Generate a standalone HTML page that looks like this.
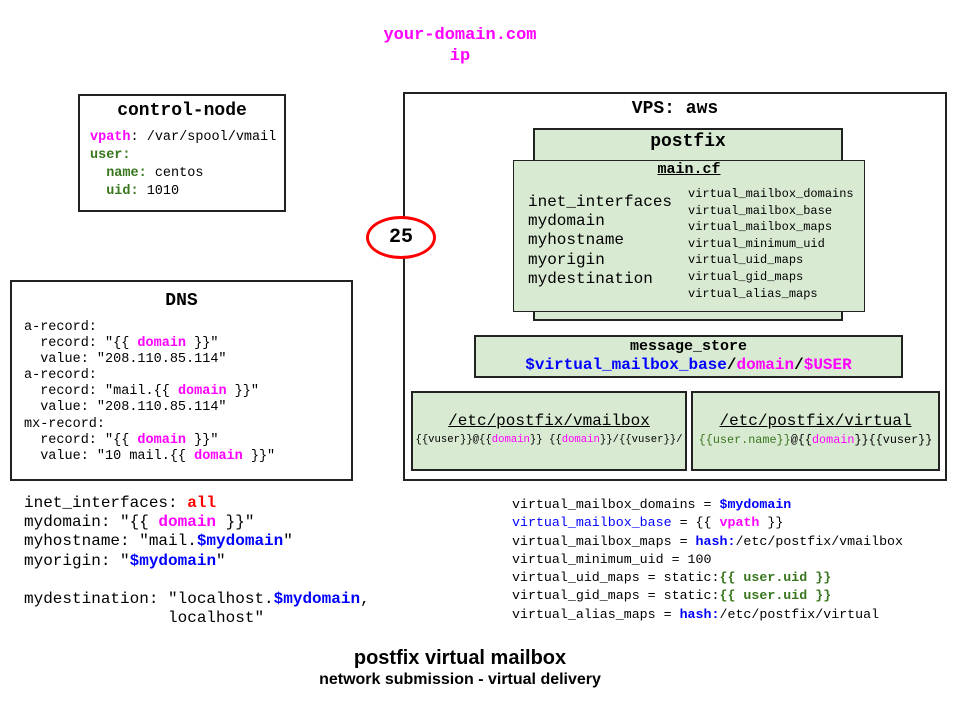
<!DOCTYPE html>
<html><head><meta charset="utf-8"><style>
body{margin:0;width:960px;height:720px;background:#fff;position:relative;overflow:hidden;font-family:"Liberation Mono",monospace;color:#000}
.a{position:absolute}
.box{position:absolute;box-sizing:border-box;border:2px solid #222}
.g{background:#d9ead3}
.m{color:#ff00ff}.b{color:#0000ff}.gr{color:#38761d}.r{color:#ff0000}
.c{text-align:center}
pre{margin:0;font-family:inherit}
</style></head><body>
<div class="a c m" style="left:360px;top:25px;width:200px;font-size:17px;line-height:21px;font-weight:bold">your-domain.com<br>ip</div>

<div class="box" style="left:78px;top:94px;width:208px;height:118px"></div>
<div class="a c" style="left:78px;top:100px;width:208px;font-size:18px;font-weight:bold;line-height:22px">control-node</div>
<pre class="a" style="left:90px;top:129px;font-size:13.5px;line-height:18px"><span class="m"><b>vpath</b></span>: /var/spool/vmail
<b class="gr">user:</b>
  <b class="gr">name:</b> centos
  <b class="gr">uid:</b> 1010</pre>

<div class="box" style="left:10px;top:280px;width:343px;height:201px"></div>
<div class="a c" style="left:10px;top:290px;width:343px;font-size:18px;font-weight:bold;line-height:22px">DNS</div>
<pre class="a" style="left:24px;top:320px;font-size:13.5px;line-height:16.1px">a-record:
  record: "{{ <b class="m">domain</b> }}"
  value: "208.110.85.114"
a-record:
  record: "mail.{{ <b class="m">domain</b> }}"
  value: "208.110.85.114"
mx-record:
  record: "{{ <b class="m">domain</b> }}"
  value: "10 mail.{{ <b class="m">domain</b> }}"</pre>

<div class="box" style="left:403px;top:92px;width:544px;height:389px"></div>
<div class="a c" style="left:403px;top:98px;width:544px;font-size:18px;font-weight:bold;line-height:22px">VPS: aws</div>

<div class="a" style="left:366px;top:216px;width:70px;height:43px;box-sizing:border-box;border:3px solid #f00;border-radius:50%;background:#fff"></div>
<div class="a c" style="left:366px;top:226px;width:70px;font-size:20px;font-weight:bold;line-height:24px">25</div>

<div class="box g" style="left:533px;top:128px;width:310px;height:193px"></div>
<div class="a c" style="left:533px;top:131px;width:310px;font-size:18px;font-weight:bold;line-height:22px">postfix</div>
<div class="a g" style="left:513px;top:160px;width:352px;height:152px;box-sizing:border-box;border:1px solid #222"></div>
<div class="a c" style="left:513px;top:160px;width:352px;font-size:15px;font-weight:bold;line-height:19px;text-decoration:underline">main.cf</div>
<pre class="a" style="left:528px;top:193px;font-size:16px;line-height:19.2px">inet_interfaces
mydomain
myhostname
myorigin
mydestination</pre>
<pre class="a" style="left:688px;top:186px;font-size:12px;line-height:16.6px">virtual_mailbox_domains
virtual_mailbox_base
virtual_mailbox_maps
virtual_minimum_uid
virtual_uid_maps
virtual_gid_maps
virtual_alias_maps</pre>

<div class="box g" style="left:474px;top:335px;width:429px;height:43px"></div>
<div class="a c" style="left:474px;top:337px;width:429px;font-size:15px;font-weight:bold;line-height:19px">message_store</div>
<div class="a c" style="left:474px;top:355px;width:429px;font-size:16px;font-weight:bold;line-height:20px"><span class="b">$virtual_mailbox_base</span>/<span class="m">domain</span>/<span class="m">$USER</span></div>

<div class="box g" style="left:411px;top:391px;width:276px;height:80px"></div>
<div class="a c" style="left:411px;top:411px;width:276px;font-size:16px;line-height:20px;text-decoration:underline">/etc/postfix/vmailbox</div>
<div class="a c" style="left:411px;top:433px;width:276px;font-size:10.6px;line-height:14px;white-space:pre">{{vuser}}@{{<span class="m">domain</span>}} {{<span class="m">domain</span>}}/{{vuser}}/</div>

<div class="box g" style="left:691px;top:391px;width:249px;height:80px"></div>
<div class="a c" style="left:691px;top:411px;width:249px;font-size:16px;line-height:20px;text-decoration:underline">/etc/postfix/virtual</div>
<div class="a c" style="left:691px;top:433px;width:249px;font-size:11.8px;line-height:14px;white-space:pre"><span class="gr">{{user.name}}</span>@{{<span class="m">domain</span>}}{{vuser}}</div>

<pre class="a" style="left:24px;top:494px;font-size:16px;line-height:19.2px">inet_interfaces: <b class="r">all</b>
mydomain: "{{ <b class="m">domain</b> }}"
myhostname: "mail.<b class="b">$mydomain</b>"
myorigin: "<b class="b">$mydomain</b>"

mydestination: "localhost.<b class="b">$mydomain</b>,
               localhost"</pre>

<pre class="a" style="left:512px;top:496px;font-size:13.3px;line-height:18.3px">virtual_mailbox_domains = <b class="b">$mydomain</b>
<span class="b">virtual_mailbox_base</span> = {{ <b class="m">vpath</b> }}
virtual_mailbox_maps = <b class="b">hash:</b>/etc/postfix/vmailbox
virtual_minimum_uid = 100
virtual_uid_maps = static:<b class="gr">{{ user.uid }}</b>
virtual_gid_maps = static:<b class="gr">{{ user.uid }}</b>
virtual_alias_maps = <b class="b">hash:</b>/etc/postfix/virtual</pre>

<div class="a c" style="left:260px;top:646px;width:400px;font-family:'Liberation Sans',sans-serif;font-size:20px;font-weight:bold;line-height:24px">postfix virtual mailbox</div>
<div class="a c" style="left:230px;top:670px;width:460px;font-family:'Liberation Sans',sans-serif;font-size:16px;font-weight:bold;line-height:20px">network submission - virtual delivery</div>
</body></html>
